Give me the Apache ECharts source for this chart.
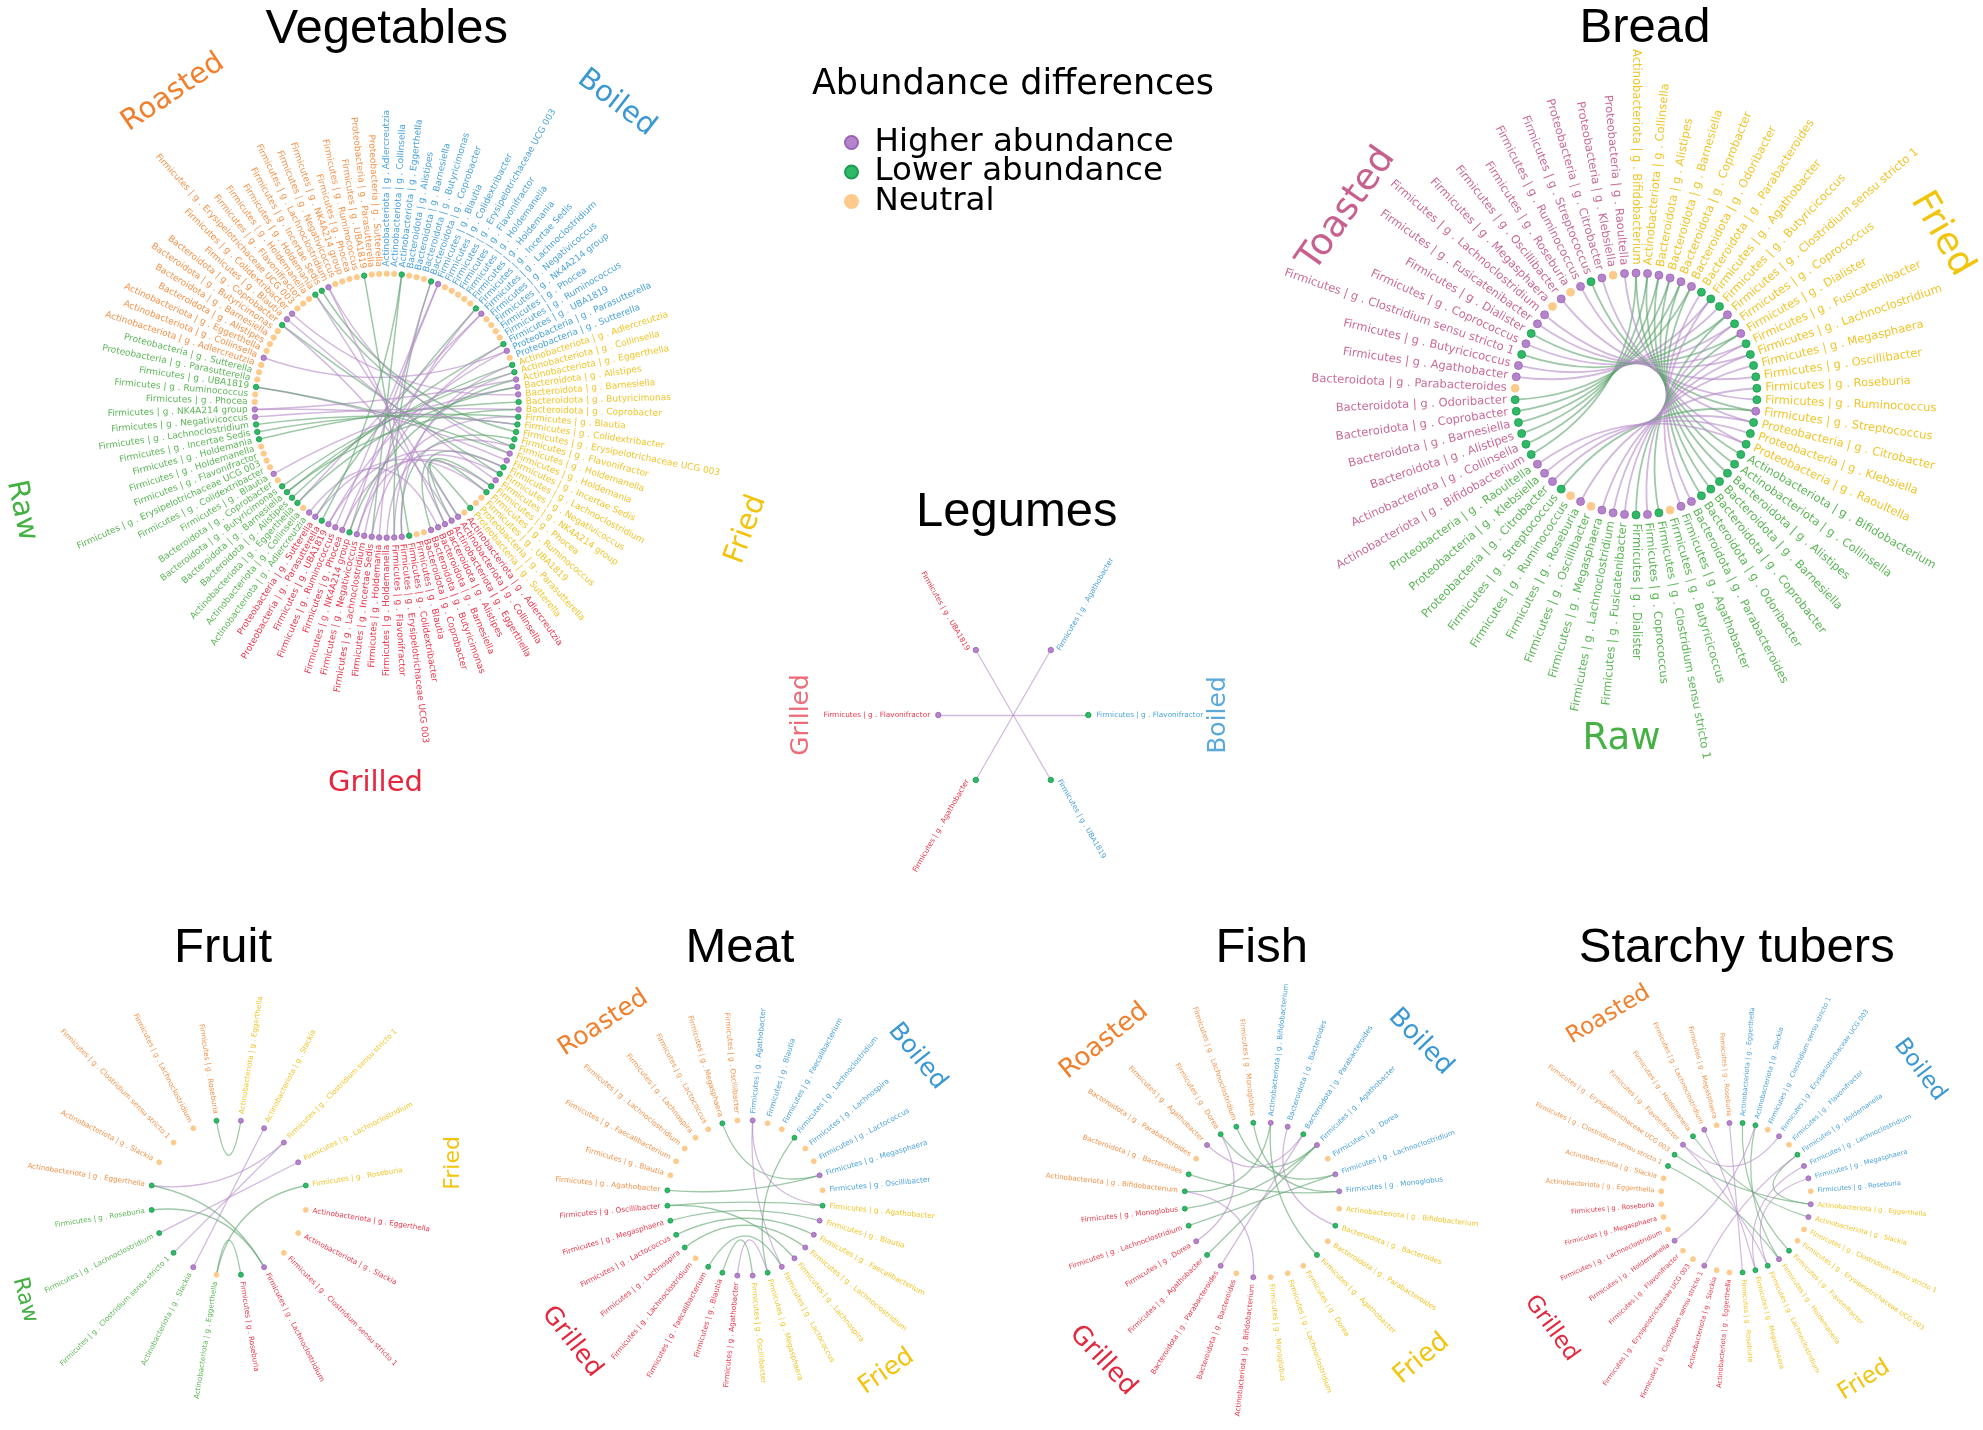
<!DOCTYPE html>
<html>
<head>
<meta charset="utf-8">
<title>Abundance differences by cooking method</title>
<script src="https://cdn.jsdelivr.net/npm/echarts@6.0.0/dist/echarts.min.js"></script>
<style>
  html, body { margin: 0; padding: 0; background: #fff; }
  #chart { width: 1983px; height: 1430px; }
</style>
</head>
<body>
<div id="chart"></div>
<script>
// abundance codes per node: H = higher, L = lower, N = neutral
const abundanceNames = ['Higher abundance', 'Lower abundance', 'Neutral'];

// ---- Vegetables ----
const vegGroups = ['Boiled', 'Fried', 'Grilled', 'Raw', 'Roasted'];
const vegGenera = [
  'Actinobacteriota | g . Adlercreutzia', 'Actinobacteriota | g . Collinsella',
  'Actinobacteriota | g . Eggerthella', 'Bacteroidota | g . Alistipes',
  'Bacteroidota | g . Barnesiella', 'Bacteroidota | g . Butyricimonas',
  'Bacteroidota | g . Coprobacter', 'Firmicutes | g . Blautia',
  'Firmicutes | g . Colidextribacter', 'Firmicutes | g . Erysipelotrichaceae UCG 003',
  'Firmicutes | g . Flavonifractor', 'Firmicutes | g . Holdemanella',
  'Firmicutes | g . Holdemania', 'Firmicutes | g . Incertae Sedis',
  'Firmicutes | g . Lachnoclostridium', 'Firmicutes | g . Negativicoccus',
  'Firmicutes | g . NK4A214 group', 'Firmicutes | g . Phocea',
  'Firmicutes | g . Ruminococcus', 'Firmicutes | g . UBA1819',
  'Proteobacteria | g . Parasutterella', 'Proteobacteria | g . Sutterella'
];
const vegAbundance = [
  'NNLNNNLHNNNNNLHNNNNLHN',
  'LLHHHLHLLLLLHHLLHLLNNL',
  'NHHHHHNNLHHHHHHHLHHHLH',
  'HNLLLLNHNNNNLLLHHNNLNN',
  'NHNNNNLHHNNNLLHNNNNLNN'
];
const vegLinks = [
  [2, 57], [6, 54], [7, 60], [13, 65], [14, 68], [19, 69], [20, 89],
  [22, 70], [23, 71], [24, 82], [25, 73], [26, 96], [27, 78], [28, 81], [29, 79],
  [30, 80], [31, 101], [32, 53], [33, 100], [34, 102], [35, 85], [36, 49], [37, 94],
  [38, 95], [39, 47], [40, 46], [43, 45], [48, 66], [52, 107], [55, 33], [56, 6],
  [58, 13], [59, 19], [61, 14], [62, 7], [63, 20], [64, 2],
  [45, 100], [46, 94], [47, 102], [53, 22], [54, 23], [57, 29], [59, 37], [61, 39],
  [63, 36], [65, 40], [60, 24], [68, 25], [70, 28], [85, 34], [82, 30]
];

// ---- Bread ----
const breadGroups = ['Fried', 'Raw', 'Toasted'];
const breadGenera = [
  'Actinobacteriota | g . Bifidobacterium', 'Actinobacteriota | g . Collinsella',
  'Bacteroidota | g . Alistipes', 'Bacteroidota | g . Barnesiella',
  'Bacteroidota | g . Coprobacter', 'Bacteroidota | g . Odoribacter',
  'Bacteroidota | g . Parabacteroides', 'Firmicutes | g . Agathobacter',
  'Firmicutes | g . Butyricicoccus', 'Firmicutes | g . Clostridium sensu stricto 1',
  'Firmicutes | g . Coprococcus', 'Firmicutes | g . Dialister',
  'Firmicutes | g . Fusicatenibacter', 'Firmicutes | g . Lachnoclostridium',
  'Firmicutes | g . Megasphaera', 'Firmicutes | g . Oscillibacter',
  'Firmicutes | g . Roseburia', 'Firmicutes | g . Ruminococcus',
  'Firmicutes | g . Streptococcus', 'Proteobacteria | g . Citrobacter',
  'Proteobacteria | g . Klebsiella', 'Proteobacteria | g . Raoultella'
];
const breadAbundance = [
  'HHHHHHLLLHLHLLLLLLHLLL',
  'LLLLLLHHNLHLHHHNHNLHHH',
  'LLLLLLNHHLHLHHNHNHLHNH'
];
const breadLinks = [
  [44, 0], [45, 1], [46, 2], [47, 3], [48, 4], [49, 5], [51, 7], [52, 8], [53, 9],
  [54, 10], [55, 11], [56, 12], [57, 13], [59, 15], [61, 17], [62, 18], [63, 19], [65, 21],
  [22, 0], [23, 1], [24, 2], [25, 3], [26, 4], [27, 5], [28, 6], [29, 7], [31, 9],
  [32, 10], [33, 11], [34, 12], [35, 13], [36, 14], [38, 16], [40, 18], [41, 19],
  [42, 20], [43, 21]
];

// ---- Legumes ----
const legGroups = ['Boiled', 'Grilled'];
const legGenera = ['Firmicutes | g . Agathobacter', 'Firmicutes | g . Flavonifractor', 'Firmicutes | g . UBA1819'];
const legAbundance = ['HLL', 'LHH'];
const legLinks = [[0, 3], [4, 1], [5, 2]];

// ---- Fruit ----
const fruitGroups = ['Fried', 'Grilled', 'Raw', 'Roasted'];
const fruitGenera = [
  'Actinobacteriota | g . Eggerthella', 'Actinobacteriota | g . Slackia',
  'Firmicutes | g . Clostridium sensu stricto 1', 'Firmicutes | g . Lachnoclostridium',
  'Firmicutes | g . Roseburia'
];
const fruitAbundance = ['HHHHL', 'NNNHL', 'NHLLL', 'LNNNL'];
const fruitLinks = [[19, 0], [1, 11], [2, 15], [2, 12], [3, 13], [4, 10], [15, 8], [14, 8], [9, 10]];

// ---- Meat ----
const meatGroups = ['Boiled', 'Fried', 'Grilled', 'Roasted'];
const meatGenera = [
  'Firmicutes | g . Agathobacter', 'Firmicutes | g . Blautia',
  'Firmicutes | g . Faecalibacterium', 'Firmicutes | g . Lachnoclostridium',
  'Firmicutes | g . Lachnospira', 'Firmicutes | g . Lactococcus',
  'Firmicutes | g . Megasphaera', 'Firmicutes | g . Oscillibacter'
];
const meatAbundance = ['HNNLNNHN', 'LHHHHHLH', 'HLLNLLLL', 'LNNNNNLN'];
const meatLinks = [
  [30, 6], [24, 6], [0, 8], [0, 13], [3, 14], [23, 12], [22, 9], [21, 10],
  [20, 11], [18, 13], [17, 15], [16, 14], [23, 8]
];

// ---- Fish ----
const fishGroups = ['Boiled', 'Fried', 'Grilled', 'Roasted'];
const fishGenera = [
  'Actinobacteriota | g . Bifidobacterium', 'Bacteroidota | g . Bacteroides',
  'Bacteroidota | g . Parabacteroides', 'Firmicutes | g . Agathobacter',
  'Firmicutes | g . Dorea', 'Firmicutes | g . Lachnoclostridium', 'Firmicutes | g . Monoglobus'
];
const fishAbundance = ['HHLHNHH', 'NLNLNNN', 'HNHLHLL', 'LLNHLLL'];
const fishLinks = [
  [27, 6], [26, 5], [25, 3], [24, 2], [22, 6], [21, 0], [1, 8], [20, 3],
  [19, 5], [17, 3], [16, 2], [14, 21], [18, 25], [10, 0]
];

// ---- Starchy tubers ----
const tuberGroups = ['Boiled', 'Fried', 'Grilled', 'Roasted'];
const tuberGenera = [
  'Actinobacteriota | g . Eggerthella', 'Actinobacteriota | g . Slackia',
  'Firmicutes | g . Clostridium sensu stricto 1', 'Firmicutes | g . Erysipelotrichaceae UCG 003',
  'Firmicutes | g . Flavonifractor', 'Firmicutes | g . Holdemanella',
  'Firmicutes | g . Lachnoclostridium', 'Firmicutes | g . Megasphaera', 'Firmicutes | g . Roseburia'
];
const tuberAbundance = ['LLNHNLHHN', 'HHNNLHLLL', 'NNHNNHNNN', 'NNLLHLHNH'];
const tuberLinks = [
  [29, 14], [30, 9], [31, 15], [32, 10], [33, 16], [35, 17], [0, 13], [1, 14],
  [5, 9], [6, 16], [7, 15], [3, 31], [20, 5], [23, 1]
];

// ---- styling ----
const dotColors = ['#b583cb', '#2fb866', '#fccb8c'];
const dotBorders = ['#9b63b4', '#1c9a4f', '#fccb8c'];
const edgeColors = ['#b48ac6', '#5ea46e', '#d9a766'];
const titleColors = { Boiled: '#3a98d4', Fried: '#f2c40c', Grilled: '#e5263c', Raw: '#45b044', Roasted: '#f17f2b', Toasted: '#c8608f' };
const textColors = { Boiled: '#4da3d9', Fried: '#f0c52a', Grilled: '#e8384d', Raw: '#5cb657', Roasted: '#f3934a', Toasted: '#c96b98' };

const categories = abundanceNames.map((name, i) => ({
  name: name,
  itemStyle: { color: dotColors[i], borderColor: dotBorders[i], borderWidth: 0.8 }
}));

// panel layout: circle centre/radius, fonts, and group label placement [angle, radius, rotation]
const panels = [
  { title: 'Vegetables', tx: 386.7, ty: 5, cx: 386.7, cy: 405.7, r: 132, font: 9, dot: 5.5, edge: 1.5, curve: 0.3,
    groups: vegGroups, genera: vegGenera, abundance: vegAbundance, links: vegLinks, groupFont: 29,
    groupLabels: [[-52.8, 380, 37.5], [19, 380, -70], [91.7, 378, 0], [164, 380, 78], [-124.3, 379, -34]] },
  { title: 'Bread', tx: 1645, ty: 4, cx: 1636, cy: 394, r: 121, font: 11.5, dot: 8, edge: 1.8, curve: 0.33,
    groups: breadGroups, genera: breadGenera, abundance: breadAbundance, links: breadLinks, groupFont: 37,
    groupLabels: [[-27.6, 345, 60], [92.4, 346, 0], [-147.4, 343, -55]] },
  { title: 'Fruit', tx: 223, ty: 924, cx: 228.7, cy: 1197.7, r: 78, font: 7.2, dot: 5, edge: 1.3, curve: 0.3,
    groups: fruitGroups, genera: fruitGenera, abundance: fruitAbundance, links: fruitLinks, groupFont: 22,
    groupLabels: [[-8.8, 227, -90], null, [153.3, 228, 75], null] },
  { title: 'Meat', tx: 740, ty: 924, cx: 745, cy: 1198, r: 78, font: 7.3, dot: 5, edge: 1.3, curve: 0.3,
    groups: meatGroups, genera: meatGenera, abundance: meatAbundance, links: meatLinks, groupFont: 25,
    groupLabels: [[-39.4, 223, 51], [50.8, 224, -35], [140.3, 225, 52], [-129, 225, -33]] },
  { title: 'Fish', tx: 1261.7, ty: 924, cx: 1262, cy: 1200, r: 77.7, font: 7.1, dot: 5, edge: 1.3, curve: 0.3,
    groups: fishGroups, genera: fishGenera, abundance: fishAbundance, links: fishLinks, groupFont: 26,
    groupLabels: [[-44.9, 224, 46], [44.9, 225, -40], [134.7, 226, 47], [-134.8, 224, -39]] },
  { title: 'Starchy tubers', tx: 1736.7, ty: 924, cx: 1736, cy: 1197.7, r: 75, font: 6.6, dot: 5, edge: 1.2, curve: 0.3,
    groups: tuberGroups, genera: tuberGenera, abundance: tuberAbundance, links: tuberLinks, groupFont: 23,
    groupLabels: [[-34.8, 224, 53], [54.9, 223, -32], [144.7, 226, 54], [-124.9, 223, -31]] }
];
const legumes = { title: 'Legumes', tx: 1016.7, ty: 488, cx: 1013.3, cy: 715, r: 75, font: 7.3, dot: 5.5, edge: 1.3,
  groupFont: 25, groupLabels: [[0, 205, -90], [180, 211.6, -90]] };

function makeNodes(groups, genera, abundance) {
  const nodes = [];
  groups.forEach((g, gi) => {
    genera.forEach((name, i) => {
      nodes.push({
        name: g + ' | ' + name,
        text: name,
        category: 'HLN'.indexOf(abundance[gi][i]),
        label: { color: textColors[g] }
      });
    });
  });
  return nodes;
}

function makeLinks(nodes, links) {
  return links.map(([a, b]) => ({
    source: nodes[a].name,
    target: nodes[b].name,
    lineStyle: { color: edgeColors[nodes[a].category] }
  }));
}

function circularSeries(p) {
  const nodes = makeNodes(p.groups, p.genera, p.abundance);
  const n = nodes.length;
  // echarts starts the ring at 3 o'clock; rotate the list so the first group starts at 12
  const shift = Math.round(n / 4);
  return {
    type: 'graph',
    layout: 'circular',
    circular: { rotateLabel: true },
    left: p.cx - p.r, top: p.cy - p.r, width: 2 * p.r, height: 2 * p.r,
    categories: categories,
    data: nodes.map((_, j) => nodes[(j + shift) % n]),
    links: makeLinks(nodes, p.links),
    symbol: 'circle',
    symbolSize: p.dot,
    label: { show: true, fontSize: p.font, fontFamily: 'DejaVu Sans', distance: 4, formatter: d => d.data.text },
    lineStyle: { width: p.edge, opacity: 0.6, curveness: p.curve },
    emphasis: { disabled: true },
    silent: true
  };
}

function radialLabel(k, n, start) {
  let a = start - k * 360 / n;
  a = ((a % 360) + 540) % 360 - 180;
  if (Math.abs(a) <= 90) return { rotate: a, position: 'right' };
  return { rotate: a > 0 ? a - 180 : a + 180, position: 'left' };
}

const legNodes = makeNodes(legGroups, legGenera, legAbundance);
const legSeries = {
  type: 'graph',
  coordinateSystem: 'polar',
  polarIndex: 0,
  categories: categories,
  data: legNodes.map((nd, k) => Object.assign({}, nd, {
    value: [1, k],
    label: Object.assign({ color: nd.label.color }, radialLabel(k, legNodes.length, 60))
  })),
  links: makeLinks(legNodes, legLinks),
  symbol: 'circle',
  symbolSize: legumes.dot,
  label: { show: true, fontSize: legumes.font, fontFamily: 'DejaVu Sans', distance: 5, formatter: d => d.data.text },
  lineStyle: { width: legumes.edge, opacity: 0.6, curveness: 0 },
  emphasis: { disabled: true },
  silent: true
};

const titleStyle = { fontSize: 49, fontFamily: 'Liberation Sans', fontWeight: 'normal', color: '#000' };
const titles = panels.concat([legumes]).map(p => ({
  text: p.title, left: p.tx, top: p.ty, textAlign: 'center', padding: 0, textStyle: titleStyle
}));
titles.push({
  text: 'Abundance differences', left: 1013, top: 67, textAlign: 'center', padding: 0,
  textStyle: { fontSize: 35, fontFamily: 'DejaVu Sans', fontWeight: 'normal', color: '#000' }
});

// rotated group names around each ring
const graphics = [];
function addGroupLabels(p, groups, colorScale) {
  p.groupLabels.forEach((spec, gi) => {
    if (!spec) return;
    const [ang, rad, rot] = spec;
    const t = ang * Math.PI / 180;
    graphics.push({
      type: 'text',
      x: p.cx + rad * Math.cos(t),
      y: p.cy + rad * Math.sin(t),
      rotation: -rot * Math.PI / 180,
      silent: true,
      style: {
        text: groups[gi],
        fill: colorScale[groups[gi]],
        font: p.groupFont + 'px "DejaVu Sans"',
        textAlign: 'center',
        textVerticalAlign: 'middle'
      }
    });
  });
}
panels.forEach(p => addGroupLabels(p, p.groups, titleColors));
addGroupLabels(legumes, legGroups, { Boiled: '#5aa9da', Grilled: '#ee6b78' });

const chart = echarts.init(document.getElementById('chart'));
chart.setOption({
  backgroundColor: '#fff',
  animation: false,
  textStyle: { fontFamily: 'DejaVu Sans' },
  title: titles,
  legend: {
    data: abundanceNames,
    orient: 'vertical',
    left: 844,
    top: 126,
    padding: 0,
    icon: 'circle',
    itemWidth: 36,
    itemHeight: 13,
    itemGap: -3.5,
    selectedMode: false,
    textStyle: { fontSize: 32.5, fontFamily: 'DejaVu Sans', color: '#000' }
  },
  polar: [{ center: [legumes.cx, legumes.cy], radius: legumes.r }],
  angleAxis: [{ polarIndex: 0, type: 'value', min: 0, max: 6, startAngle: 60, clockwise: true, show: false }],
  radiusAxis: [{ polarIndex: 0, type: 'value', min: 0, max: 1, show: false }],
  graphic: graphics,
  series: panels.map(circularSeries).concat([legSeries])
});
</script>
</body>
</html>
